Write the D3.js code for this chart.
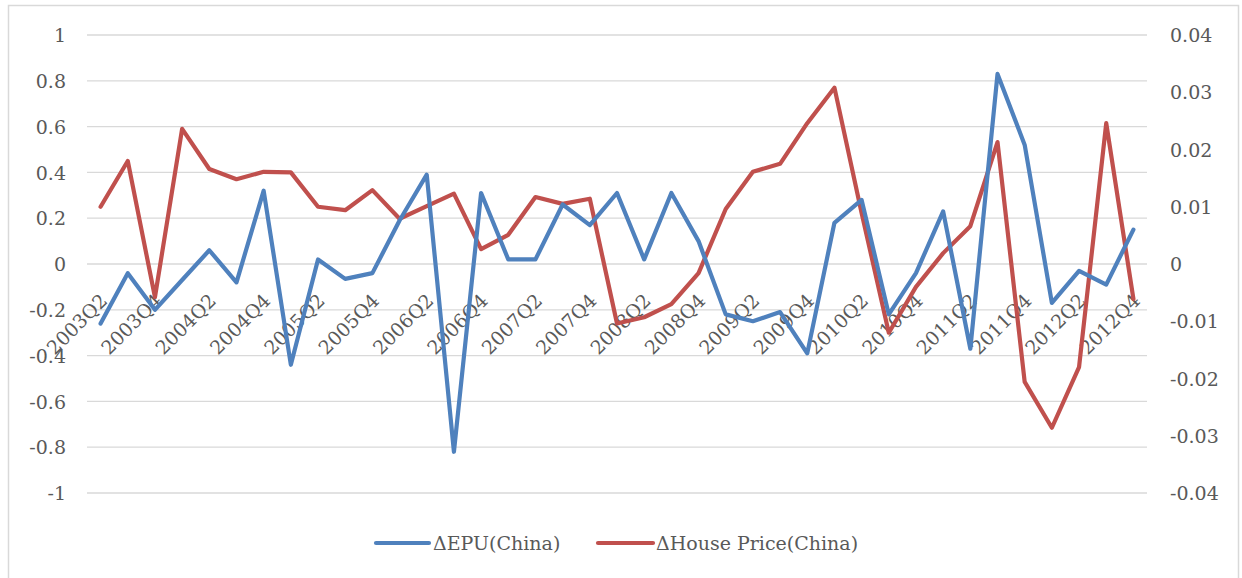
<!DOCTYPE html>
<html><head><meta charset="utf-8">
<script src="https://cdn.jsdelivr.net/npm/d3@7"></script>
<style>
html,body{margin:0;padding:0;background:#fff;}
svg text{font-family:"DejaVu Serif",serif;fill:#595959;}
</style></head>
<body><svg id="c" width="1242" height="578"></svg>
<script>
const quarters = ["2003Q2","2003Q3","2003Q4","2004Q1","2004Q2","2004Q3","2004Q4","2005Q1","2005Q2","2005Q3","2005Q4","2006Q1","2006Q2","2006Q3","2006Q4","2007Q1","2007Q2","2007Q3","2007Q4","2008Q1","2008Q2","2008Q3","2008Q4","2009Q1","2009Q2","2009Q3","2009Q4","2010Q1","2010Q2","2010Q3","2010Q4","2011Q1","2011Q2","2011Q3","2011Q4","2012Q1","2012Q2","2012Q3","2012Q4"];
const epu = [-0.26,-0.04,-0.20,-0.07,0.06,-0.08,0.32,-0.44,0.02,-0.065,-0.04,0.19,0.39,-0.82,0.31,0.02,0.02,0.26,0.17,0.31,0.02,0.31,0.10,-0.22,-0.25,-0.21,-0.39,0.18,0.28,-0.22,-0.04,0.23,-0.37,0.83,0.52,-0.17,-0.03,-0.09,0.15];
const housePrice = [0.0100,0.0180,-0.0058,0.0236,0.0166,0.0148,0.0161,0.0160,0.0100,0.0094,0.0129,0.0079,0.0101,0.0123,0.0026,0.0051,0.0117,0.0105,0.0114,-0.0104,-0.0093,-0.0070,-0.0016,0.0096,0.0161,0.0175,0.0246,0.0308,0.0089,-0.0120,-0.0040,0.0019,0.0066,0.0213,-0.0206,-0.0286,-0.0180,0.0246,-0.0061];
const leftTicks = [-1,-0.8,-0.6,-0.4,-0.2,0,0.2,0.4,0.6,0.8,1];
const rightTicks = [-0.04,-0.03,-0.02,-0.01,0,0.01,0.02,0.03,0.04];
const seriesNames = ["ΔEPU(China)","ΔHouse Price(China)"];
const colors = ["#4f81bd","#c0504d"];

const svg = d3.select("#c");
const L = 87, R = 1147, T = 35, B = 493;
svg.append("rect").attr("x",8.5).attr("y",5.5).attr("width",1230).attr("height",580)
  .attr("fill","none").attr("stroke","#d9d9d9").attr("stroke-width",1.5);

const x = d3.scaleBand().domain(quarters).range([L,R]);
const xc = d => x(d) + x.bandwidth()/2;
const yL = d3.scaleLinear().domain([-1,1]).range([B,T]);
const yR = d3.scaleLinear().domain([-0.04,0.04]).range([B,T]);

// gridlines
svg.append("g").selectAll("line").data(leftTicks).join("line")
  .attr("x1",L).attr("x2",R).attr("y1",d=>yL(d)).attr("y2",d=>yL(d))
  .attr("stroke","#d9d9d9").attr("stroke-width",1.3);

const fmt = d => String(+d.toFixed(2));
const gl = svg.append("g").attr("transform",`translate(${L-21},0)`)
  .call(d3.axisLeft(yL).tickValues(leftTicks).tickSize(0).tickPadding(0).tickFormat(fmt));
gl.select(".domain").remove();
gl.selectAll("text").attr("font-size",19).attr("dy","0.35em").attr("fill","#595959");

const gr = svg.append("g").attr("transform",`translate(${R+23},0)`)
  .call(d3.axisRight(yR).tickValues(rightTicks).tickSize(0).tickPadding(0).tickFormat(fmt));
gr.select(".domain").remove();
gr.selectAll("text").attr("font-size",19).attr("dy","0.35em").attr("fill","#595959");

// x labels
const labelQ = quarters.filter((q,i)=>i%2===0);
svg.append("g").selectAll("text").data(labelQ).join("text")
  .attr("transform",d=>`translate(${xc(d)+8},${yL(0)+38}) rotate(-45)`)
  .attr("text-anchor","end").attr("font-size",19).attr("fill","#595959").text(d=>d);

// lines
const lineL = d3.line().x((d,i)=>xc(quarters[i])).y(d=>yL(d));
const lineR = d3.line().x((d,i)=>xc(quarters[i])).y(d=>yR(d));
svg.append("path").datum(housePrice).attr("d",lineR).attr("fill","none")
  .attr("stroke",colors[1]).attr("stroke-width",4.2).attr("stroke-linejoin","round").attr("stroke-linecap","round");
svg.append("path").datum(epu).attr("d",lineL).attr("fill","none")
  .attr("stroke",colors[0]).attr("stroke-width",4.2).attr("stroke-linejoin","round").attr("stroke-linecap","round");

// legend
const leg = [{x1:376,x2:429,tx:433},{x1:598,x2:653,tx:656}];
const lg = svg.append("g");
seriesNames.forEach((n,i)=>{
  lg.append("line").attr("x1",leg[i].x1).attr("x2",leg[i].x2).attr("y1",543).attr("y2",543)
    .attr("stroke",colors[i]).attr("stroke-width",4.2).attr("stroke-linecap","round");
  lg.append("text").attr("x",leg[i].tx).attr("y",543).attr("dy","0.35em").attr("font-size",19).attr("fill","#595959").text(n);
});
</script></body></html>
